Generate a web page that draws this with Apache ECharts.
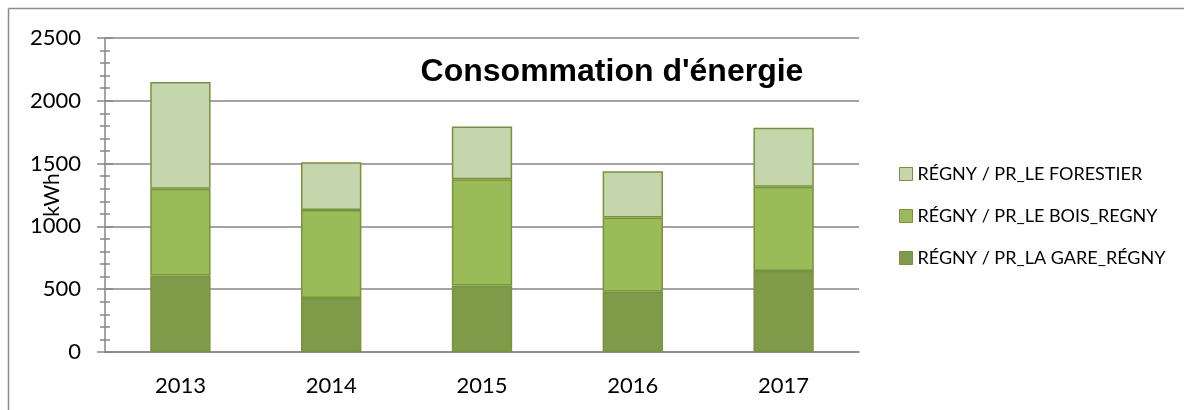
<!DOCTYPE html>
<html>
<head>
<meta charset="utf-8">
<script src="https://cdn.jsdelivr.net/npm/echarts@6/dist/echarts.min.js"></script>
<style>
    html, body { margin: 0; padding: 0; background: #fff; }
    #myEchart { width: 1184px; height: 410px; }
</style>
</head>
<body>
<div id="myEchart"></div>
<script>
var years = ['2013', '2014', '2015', '2016', '2017'];
var gare = [610, 430, 530, 480, 645];
var bois = [690, 700, 845, 590, 670];
var forestier = [850, 380, 420, 370, 470];
var seriesNames = ['RÉGNY / PR_LA GARE_RÉGNY', 'RÉGNY / PR_LE BOIS_REGNY', 'RÉGNY / PR_LE FORESTIER'];
var colors = ['#7f9b49', '#9bbb59', '#c6d6ac'];

var chartPaper = echarts.init(document.getElementById('myEchart'));
var axisGray = '#868686';
var labelFont = 'Lato';

function bar(name, data, color) {
    return {
        name: name,
        type: 'bar',
        stack: 'total',
        barWidth: '40%',
        data: data,
        itemStyle: { color: color, borderColor: '#77933c', borderWidth: 1.5 }
    };
}

function legendItem(name, top) {
    return {
        data: [name],
        left: 894,
        top: top,
        itemWidth: 13,
        itemHeight: 13,
        icon: 'rect',
        itemStyle: { borderColor: '#77933c', borderWidth: 1 },
        textStyle: { fontFamily: labelFont, fontSize: 18, color: '#000' },
        selectedMode: false
    };
}

var yBase = { type: 'value', min: 0, max: 2500, interval: 500 };

var option = {
    animation: false,
    title: {
        text: "Consommation d'énergie",
        left: 607,
        top: 51,
        textAlign: 'center',
        textStyle: { fontFamily: 'Liberation Sans', fontWeight: 'bold', fontSize: 32, color: '#000' }
    },
    legend: [
        legendItem(seriesNames[2], 160),
        legendItem(seriesNames[1], 202),
        legendItem(seriesNames[0], 244)
    ],
    grid: { left: 105, right: 325, top: 38, bottom: 58, outerBoundsMode: 'none', containLabel: false },
    xAxis: [
        {
            type: 'category',
            data: years,
            axisLine: { lineStyle: { color: axisGray, width: 1.5 } },
            axisTick: { length: 8, lineStyle: { color: axisGray, width: 1.5 } },
            axisLabel: { margin: 23, fontFamily: labelFont, fontSize: 22, color: '#000' }
        },
        {
            type: 'category',
            data: years,
            position: 'bottom',
            axisLine: { show: false },
            axisTick: { inside: true, length: 8, lineStyle: { color: axisGray, width: 1.5 } },
            axisLabel: { show: false }
        },
        {
            type: 'category',
            data: years,
            position: 'bottom',
            axisLine: { show: false },
            axisTick: { alignWithLabel: true, length: 5, lineStyle: { color: axisGray, width: 1.5 } },
            axisLabel: { show: false }
        }
    ],
    yAxis: [
        Object.assign({}, yBase, {
            axisLine: { show: true, lineStyle: { color: axisGray, width: 1.5 } },
            axisTick: { show: true, length: 8, lineStyle: { color: axisGray, width: 1.5 } },
            minorTick: { show: true, splitNumber: 5, length: 5, lineStyle: { color: axisGray, width: 1.5 } },
            splitLine: { lineStyle: { color: axisGray, width: 1.5 } },
            axisLabel: {
                margin: 24, fontFamily: labelFont, fontSize: 22, color: '#000',
                formatter: function (v) { return String(v); }
            }
        }),
        Object.assign({}, yBase, {
            position: 'left',
            name: 'kWh',
            nameLocation: 'middle',
            nameGap: 42,
            nameTextStyle: { fontFamily: labelFont, fontSize: 21, color: '#000' },
            axisLine: { show: false },
            axisTick: { show: true, inside: true, length: 8, lineStyle: { color: axisGray, width: 1.5 } },
            minorTick: { show: true, splitNumber: 5, length: 5, lineStyle: { color: axisGray, width: 1.5 } },
            splitLine: { show: false },
            axisLabel: { show: false }
        })
    ],
    series: [
        bar(seriesNames[0], gare, colors[0]),
        bar(seriesNames[1], bois, colors[1]),
        bar(seriesNames[2], forestier, colors[2])
    ],
    graphic: [
        { type: 'line', shape: { x1: 8.5, y1: 8.5, x2: 1184, y2: 8.5 }, style: { stroke: '#8c8c8c', lineWidth: 1.5 } },
        { type: 'line', shape: { x1: 8.5, y1: 8.5, x2: 8.5, y2: 410 }, style: { stroke: '#8c8c8c', lineWidth: 1.5 } }
    ]
};

chartPaper.setOption(option);
</script>
</body>
</html>
